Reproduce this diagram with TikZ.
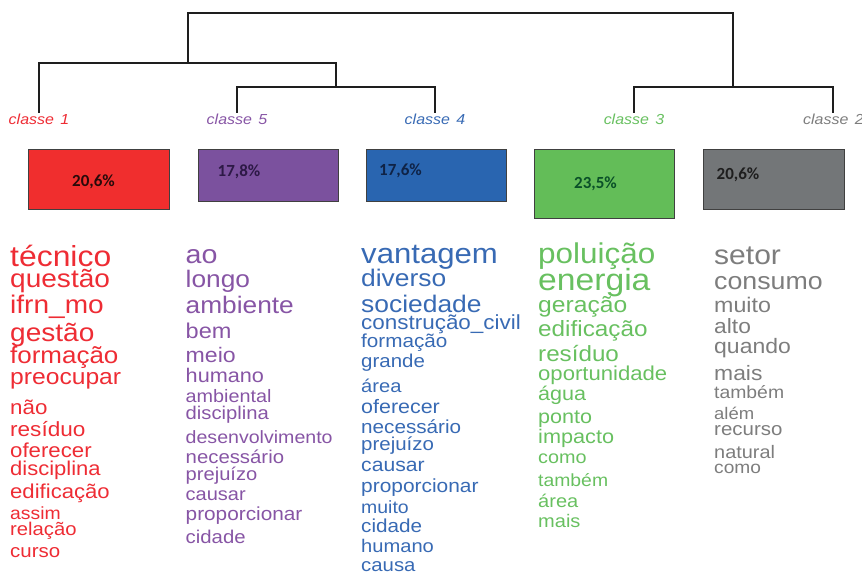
\documentclass[tikz,border=0pt]{standalone}
\usepackage{fontspec}
\newfontfamily\wordfont[FakeStretch=1.1]{Liberation Sans}
\newfontfamily\pctfont{Carlito}
\newcommand\wf[1]{\wordfont\fontsize{#1}{#1}\selectfont}
\definecolor{cred}{RGB}{238,44,52}
\definecolor{cpur}{RGB}{135,85,165}
\definecolor{cblu}{RGB}{56,106,180}
\definecolor{cgrn}{RGB}{104,192,96}
\definecolor{cgry}{RGB}{125,125,125}
\definecolor{bred}{RGB}{240,46,46}
\definecolor{bpur}{RGB}{123,81,158}
\definecolor{bblu}{RGB}{41,101,176}
\definecolor{bgrn}{RGB}{99,189,88}
\definecolor{bgry}{RGB}{115,118,120}
\definecolor{tred}{RGB}{40,10,10}
\definecolor{tpur}{RGB}{45,25,70}
\definecolor{tblu}{RGB}{15,35,70}
\definecolor{tgrn}{RGB}{10,80,40}
\definecolor{tgry}{RGB}{30,30,30}
\definecolor{dline}{RGB}{30,30,30}
\tikzset{
  wordnode/.style={anchor=base west, inner sep=0pt},
  classlab/.style={anchor=base, inner sep=0pt, font=\wf{14.5}\itshape},
  boxnode/.style={draw=dline!85, line width=0.8pt, inner sep=0pt},
  pctnode/.style={inner sep=0pt, font=\pctfont\bfseries\fontsize{17}{17}\selectfont},
  dendro/.style={draw=dline, line width=1.2pt},
}
\begin{document}
\begin{tikzpicture}[x=1pt,y=-1pt]
\useasboundingbox (0,0) rectangle (862,572);
% dendrogram
\coordinate (l1) at (39,113);
\coordinate (l5) at (237,113);
\coordinate (l4) at (435,113);
\coordinate (l3) at (634,113);
\coordinate (l2) at (833,113);
\coordinate (j54) at (336,87);
\coordinate (j154) at (188,63);
\coordinate (j32) at (733,87);
\coordinate (root) at (460,13);
\draw[dendro] (l5) |- (j54) -| (l4);
\draw[dendro] (l1) |- (j154) -| (j54);
\draw[dendro] (l3) |- (j32) -| (l2);
\draw[dendro] (j154) |- (root) -| (j32);
% class labels
\node[classlab, text=cred] (k1) at (39,124.5) {classe\hspace{2pt} 1};
\node[classlab, text=cpur] (k5) at (237,124.5) {classe\hspace{2pt} 5};
\node[classlab, text=cblu] (k4) at (435,124.5) {classe\hspace{2pt} 4};
\node[classlab, text=cgrn] (k3) at (634,124.5) {classe\hspace{2pt} 3};
\node[classlab, text=cgry, anchor=base west] (k2) at (803,124.5) {classe\hspace{2pt} 2};
% boxes
\node[boxnode, fill=bred, minimum width=141pt, minimum height=60pt] (b1) at (98.5,179) {};
\node[boxnode, fill=bpur, minimum width=140pt, minimum height=52pt] (b5) at (268,175) {};
\node[boxnode, fill=bblu, minimum width=140pt, minimum height=52pt] (b4) at (436,175) {};
\node[boxnode, fill=bgrn, minimum width=140pt, minimum height=69pt] (b3) at (604,183.5) {};
\node[boxnode, fill=bgry, minimum width=141pt, minimum height=60pt] (b2) at (773.5,179) {};
\node[pctnode, text=tred] (p1) at (93.5,182) {20,6\%};
\node[pctnode, text=tpur] (p5) at (239,171.5) {17,8\%};
\node[pctnode, text=tblu] (p4) at (400.5,171) {17,6\%};
\node[pctnode, text=tgrn] (p3) at (595.5,183.5) {23,5\%};
\node[pctnode, text=tgry] (p2) at (738,175) {20,6\%};
% column 1
\foreach \t/\s/\y [count=\i] in {técnico/29/266, questão/25.5/287, ifrn\_mo/25.5/313, gestão/25.5/341, formação/23.6/363, preocupar/22.4/384, não/20.3/414, resíduo/20.5/436, oferecer/20.2/457, disciplina/20/475, edificação/20.1/498, assim/17.6/519, relação/18.4/535, curso/18.6/557}
  \node[wordnode, text=cred, font=\wf{\s}] (ca\i) at (10,\y) {\t};
% column 2
\foreach \t/\s/\y [count=\i] in {ao/26/263, longo/23.9/287, ambiente/23.9/313, bem/21.4/338, meio/21/362, humano/19.7/382, ambiental/18/402, disciplina/18.4/419, desenvolvimento/17.8/443, necessário/18.5/463, prejuízo/18.3/480, causar/18.2/500, proporcionar/18.9/520, cidade/18.5/543}
  \node[wordnode, text=cpur, font=\wf{\s}] (cb\i) at (185.5,\y) {\t};
% column 3
\foreach \t/\s/\y [count=\i] in {vantagem/28.3/263, diverso/24/286, sociedade/24/312, construção\_civil/20.4/329, formação/18.8/347, grande/18.6/367, área/18.3/392, oferecer/19.5/413, necessário/18.8/433, prejuízo/18.6/450, causar/19.2/471, proporcionar/19/492, muito/17.7/513, cidade/18.8/532, humano/18.3/552, causa/18.5/571}
  \node[wordnode, text=cblu, font=\wf{\s}] (cc\i) at (361,\y) {\t};
% column 4
\foreach \t/\s/\y [count=\i] in {poluição/28.6/263, energia/30.6/290, geração/22.4/312, edificação/22.1/336, resíduo/22/361, oportunidade/20.1/380, água/19.6/400, ponto/19.6/423, impacto/19.7/443, como/18/463, também/17.6/486, área/18.2/507, mais/18.2/527}
  \node[wordnode, text=cgrn, font=\wf{\s}] (cd\i) at (538,\y) {\t};
% column 5
\foreach \t/\s/\y [count=\i] in {setor/27.3/265, consumo/24.3/289, muito/21.1/312, alto/20.7/333, quando/20.9/353, mais/20.8/380, também/17.6/398, além/16.8/419, recurso/18.6/435, natural/18.1/458, como/17.4/473}
  \node[wordnode, text=cgry, font=\wf{\s}] (ce\i) at (714,\y) {\t};
\end{tikzpicture}
\end{document}
